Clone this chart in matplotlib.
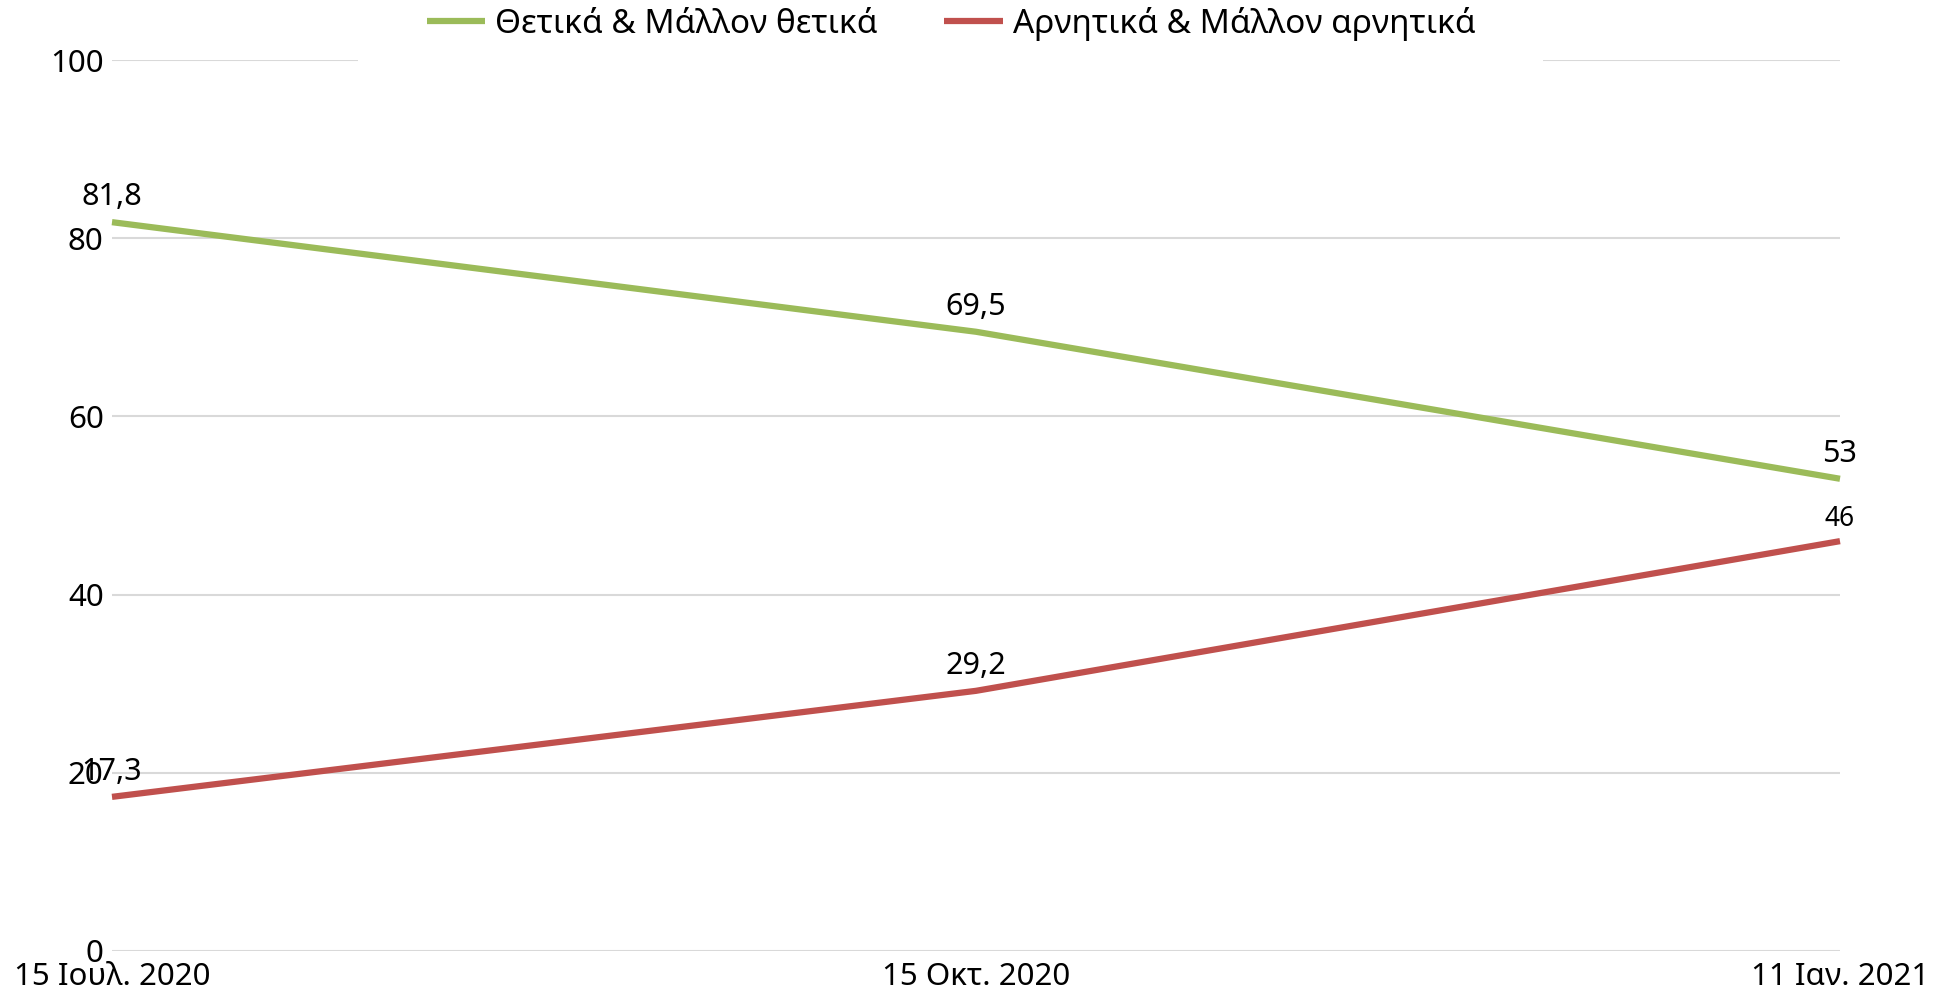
import matplotlib.pyplot as plt
from matplotlib.patches import Rectangle

plt.rcParams["font.family"] = ["Noto Sans", "DejaVu Sans"]

dates = ["15 Ιουλ. 2020", "15 Οκτ. 2020", "11 Ιαν. 2021"]
positive = [81.8, 69.5, 53]
negative = [17.3, 29.2, 46]
positive_labels = ["81,8", "69,5", "53"]
negative_labels = ["17,3", "29,2", "46"]
yticks = [0, 20, 40, 60, 80, 100]

green = "#9BBB59"
red = "#C0504D"

fig = plt.figure(figsize=(19.47, 9.98), dpi=100)
ax = fig.add_axes([112 / 1947, 1 - 951 / 998, (1840 - 112) / 1947, (951 - 60) / 998])

x = list(range(len(dates)))
ax.plot(x, positive, color=green, lw=4.5, label="Θετικά & Μάλλον θετικά",
        solid_capstyle="butt", clip_on=False, zorder=3)
ax.plot(x, negative, color=red, lw=4.5, label="Αρνητικά & Μάλλον αρνητικά",
        solid_capstyle="butt", clip_on=False, zorder=3)

for xi, v, s in zip(x, positive, positive_labels):
    ax.annotate(s, (xi, v), xytext=(0, 18), textcoords="offset points",
                ha="center", va="center", fontsize=22, zorder=4)
for xi, v, s in zip(x, negative, negative_labels):
    fs = 19 if s == "46" else 22
    off = 16 if s == "46" else 18
    ax.annotate(s, (xi, v), xytext=(0, off), textcoords="offset points",
                ha="center", va="center", fontsize=fs, zorder=4)

ax.set_xlim(0, 2)
ax.set_ylim(0, 100)
ax.set_yticks(yticks)
ax.set_xticks(x)
ax.set_xticklabels(dates)
ax.tick_params(axis="both", length=0, labelsize=22.5)
ax.tick_params(axis="y", pad=6)
ax.tick_params(axis="x", pad=8)
ax.grid(axis="y", color="#D9D9D9", lw=1.5)
ax.set_axisbelow(True)
for sp in ax.spines.values():
    sp.set_visible(False)

# white box behind the legend, cutting the top gridline
fig.patches.append(Rectangle((358 / 1947, 1 - 75 / 998), (1543 - 358) / 1947, 75 / 998,
                             transform=fig.transFigure, facecolor="white",
                             edgecolor="none", zorder=2))

fig.legend(loc="center", bbox_to_anchor=(951 / 1947, 1 - 24 / 998), ncol=2,
           frameon=False, fontsize=24, handlelength=1.75, handletextpad=0.3,
           columnspacing=2.0)

fig.savefig("out.png", dpi=100)
